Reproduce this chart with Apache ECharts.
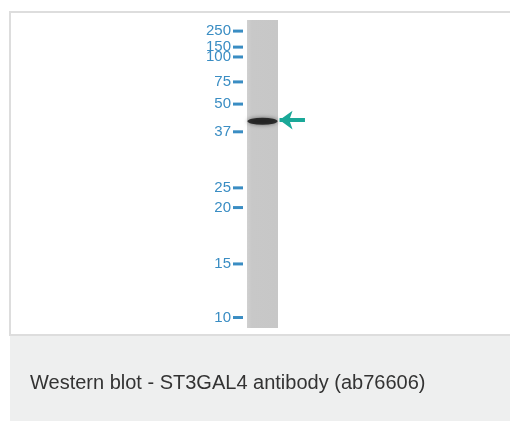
<!DOCTYPE html>
<html>
<head>
<meta charset="utf-8">
<script src="https://cdn.jsdelivr.net/npm/echarts@6/dist/echarts.min.js"></script>
<style>html,body{margin:0;padding:0;background:#fff;}#c{width:510px;height:421px;}</style>
</head>
<body>
<div id="c"></div>
<script>
// Molecular weight markers (kDa) and their relative migration (0 = top of lane, 1 = bottom)
const markerKDa = [250, 150, 100, 75, 50, 37, 25, 20, 15, 10];
const markerRf  = [0.036, 0.088, 0.120, 0.201, 0.273, 0.363, 0.545, 0.609, 0.792, 0.966];
// Detected band (ST3GAL4, ~40 kDa)
const bandRf = [0.329];
const laneSpan = [0, 1];
const caption = 'Western blot - ST3GAL4 antibody (ab76606)';

const chart = echarts.init(document.getElementById('c'));
const blue = '#3a8dc3';
const teal = '#1aa898';

chart.setOption({
  animation: false,
  backgroundColor: '#ffffff',
  title: {
    text: caption,
    left: 25,
    top: 368,
    textStyle: { fontFamily: 'Liberation Sans, Arial, sans-serif', fontSize: 20, fontWeight: 'normal', color: '#333333' }
  },
  graphic: [
    { type: 'rect', z: -10, shape: { x: 10, y: 336, width: 500, height: 85 }, style: { fill: '#eeefef' } },
    { type: 'rect', z: -10, shape: { x: 10, y: 12, width: 520, height: 323 }, style: { fill: 'none', stroke: '#dddddd', lineWidth: 2 } }
  ],
  grid: { left: 247, top: 20, width: 62, height: 308 },
  xAxis: { type: 'value', min: 0, max: 2, show: false },
  yAxis: {
    type: 'value', inverse: true, min: 0, max: 1,
    axisLine: { show: false },
    splitLine: { show: false },
    axisTick: { show: false },
    axisLabel: {
      customValues: markerRf, margin: 4,
      formatter: function (v) {
        const i = markerRf.indexOf(v);
        return i >= 0 ? '{n|' + markerKDa[i] + '}{d|}' : '';
      },
      rich: {
        n: { color: blue, fontSize: 15, fontFamily: 'Liberation Sans, Arial, sans-serif', padding: [0, 2, 0, 0], verticalAlign: 'middle' },
        d: { width: 10, height: 3, backgroundColor: blue, verticalAlign: 'middle' }
      }
    }
  },
  series: [
    {
      type: 'custom', silent: true, z: 1,
      data: [[laneSpan[0], laneSpan[1]]],
      renderItem: function (params, api) {
        const p0 = api.coord([laneSpan[0], laneSpan[0]]);
        const p1 = api.coord([laneSpan[1], laneSpan[1]]);
        return {
          type: 'rect',
          shape: { x: p0[0], y: p0[1], width: p1[0] - p0[0], height: p1[1] - p0[1] },
          style: {
            fill: new echarts.graphic.LinearGradient(0, 0, 1, 0, [
              { offset: 0, color: '#d0d0d0' }, { offset: 0.15, color: '#c8c8c8' }, { offset: 1, color: '#c7c7c7' }
            ])
          }
        };
      }
    },
    {
      type: 'scatter', z: 3, silent: true,
      data: bandRf.map(r => [0.5, r]),
      symbol: 'circle', symbolSize: [30, 7],
      itemStyle: { color: '#101010', shadowBlur: 4, shadowColor: 'rgba(0,0,0,0.6)' },
      clip: false,
      markLine: {
        silent: true, animation: false,
        symbol: ['none', 'arrow'], symbolSize: [14, 13],
        label: { show: false },
        lineStyle: { color: teal, width: 4, type: 'solid' },
        data: bandRf.map(r => [{ coord: [1.87, r - 0.004] }, { coord: [1.05, r - 0.004] }])
      }
    }
  ]
});
</script>
</body>
</html>
